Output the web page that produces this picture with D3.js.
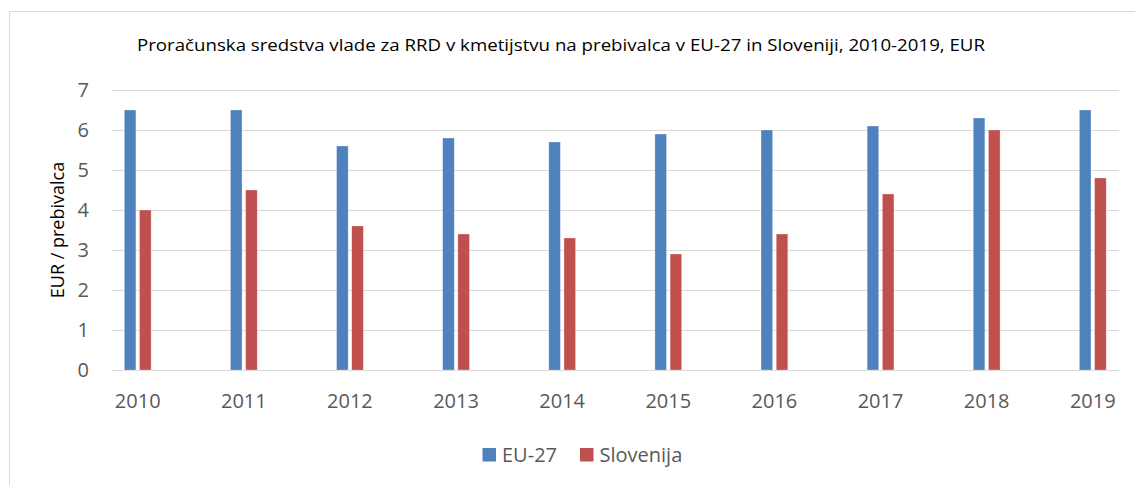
<!DOCTYPE html>
<html><head><meta charset="utf-8">
<script src="https://cdn.jsdelivr.net/npm/d3@7"></script>
<style>body{margin:0;background:#fff}svg{display:block}</style>
</head><body>
<svg id="c" width="1135" height="485"></svg>
<script>
const years = ["2010","2011","2012","2013","2014","2015","2016","2017","2018","2019"];
const eu27 = [6.5, 6.5, 5.6, 5.8, 5.7, 5.9, 6.0, 6.1, 6.3, 6.5];
const slovenija = [4.0, 4.5, 3.6, 3.4, 3.3, 2.9, 3.4, 4.4, 6.0, 4.8];
const seriesNames = ["EU-27", "Slovenija"];
const yTicks = [0,1,2,3,4,5,6,7];
const title = "Proračunska sredstva vlade za RRD v kmetijstvu na prebivalca v EU-27 in Sloveniji, 2010-2019, EUR";
const yLabel = "EUR / prebivalca";

const colors = ["#4F81BD", "#C0504D"];
const font = "'Open Sans', 'DejaVu Sans', sans-serif";
const svg = d3.select("#c");

// chart border
svg.append("rect").attr("x", 9.5).attr("y", 11.5).attr("width", 1200).attr("height", 600)
  .attr("fill", "none").attr("stroke", "#D9D9D9").attr("stroke-width", 1);

const L = 111.5, R = 1119, T = 90, B = 370;
const x = d3.scalePoint().domain(years).range([L, R]).padding(0.247);
const y = d3.scaleLinear().domain([0, 7]).range([B, T]);

// title
svg.append("text").attr("x", 561).attr("y", 51).attr("text-anchor", "middle")
  .attr("font-family", font).attr("font-size", 17).attr("fill", "#000")
  .attr("textLength", 848).attr("lengthAdjust", "spacingAndGlyphs")
  .text(title);

// gridlines
svg.append("g").selectAll("line").data(yTicks).join("line")
  .attr("x1", L).attr("x2", R).attr("y1", d => y(d) + 0.5).attr("y2", d => y(d) + 0.5)
  .attr("stroke", "#D9D9D9").attr("stroke-width", 1.2);

// y tick labels
svg.append("g").selectAll("text").data(yTicks).join("text")
  .attr("x", 89).attr("y", d => y(d)).attr("dy", "0.36em").attr("text-anchor", "end")
  .attr("font-family", font).attr("font-size", 20).attr("fill", "#595959")
  .text(d => d);

// x tick labels
svg.append("g").selectAll("text").data(years).join("text")
  .attr("x", d => x(d)).attr("y", 408).attr("text-anchor", "middle")
  .attr("font-family", font).attr("font-size", 20).attr("fill", "#595959")
  .text(d => d);

// y axis title
svg.append("text").attr("transform", "translate(64,230) rotate(-90)")
  .attr("text-anchor", "middle").attr("font-family", font).attr("font-size", 18).attr("fill", "#000")
  .text(yLabel);

// bars
const bw = 11.6, gap = 3.6;
const series = [eu27, slovenija];
series.forEach((vals, si) => {
  svg.append("g").selectAll("rect").data(vals).join("rect")
    .attr("x", (d, i) => x(years[i]) - bw - gap / 2 + si * (bw + gap))
    .attr("y", d => y(d))
    .attr("width", bw)
    .attr("height", d => y(0) - y(d))
    .attr("fill", colors[si])
    .attr("stroke", "#fff").attr("stroke-opacity", 0.5).attr("stroke-width", 0.6);
});

// legend
const legendX = [482.5, 580];
seriesNames.forEach((n, i) => {
  svg.append("rect").attr("x", legendX[i]).attr("y", 448).attr("width", 13.5).attr("height", 13.5)
    .attr("fill", colors[i]);
  svg.append("text").attr("x", legendX[i] + 19.5).attr("y", 462)
    .attr("font-family", font).attr("font-size", 20).attr("fill", "#595959").text(n);
});
</script>
</body></html>
